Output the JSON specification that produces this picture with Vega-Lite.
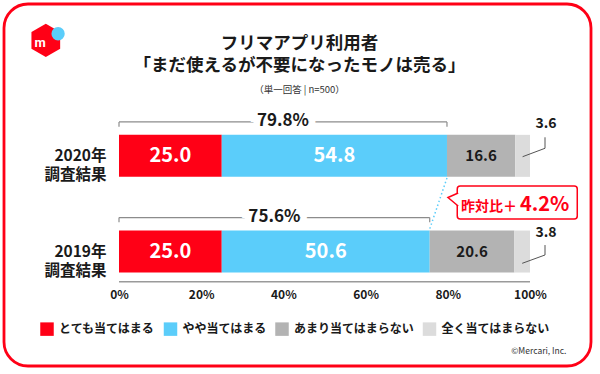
{
  "$schema": "https://vega.github.io/schema/vega-lite/v6.json",
  "width": 587,
  "height": 362,
  "autosize": {"type": "none"},
  "padding": {"left": 4, "top": 4, "right": 9, "bottom": 8},
  "background": "white",
  "view": {"stroke": "#ff0016", "strokeWidth": 2.8, "cornerRadius": 24, "fill": "white"},
  "config": {"font": "Noto Sans CJK JP"},
  "title": {
    "text": ["フリマアプリ利用者", "「まだ使えるが不要になったモノは売る」"],
    "subtitle": "（単一回答 | n=500）",
    "anchor": "middle",
    "frame": "group",
    "offset": -90,
    "dx": 2,
    "fontSize": 17.5,
    "lineHeight": 22.5,
    "font": "Noto Sans CJK JP",
    "fontWeight": "bold",
    "color": "#1a1a1a",
    "subtitleFont": "Noto Sans CJK JP",
    "subtitleFontSize": 9.5,
    "subtitleColor": "#333333",
    "subtitlePadding": 10
  },
  "datasets": {
    "bars": [
      {"year": "2020", "cat": "とても当てはまる", "order": 1, "value": 25.0},
      {"year": "2020", "cat": "やや当てはまる", "order": 2, "value": 54.8},
      {"year": "2020", "cat": "あまり当てはまらない", "order": 3, "value": 16.6},
      {"year": "2020", "cat": "全く当てはまらない", "order": 4, "value": 3.6},
      {"year": "2019", "cat": "とても当てはまる", "order": 1, "value": 25.0},
      {"year": "2019", "cat": "やや当てはまる", "order": 2, "value": 50.6},
      {"year": "2019", "cat": "あまり当てはまらない", "order": 3, "value": 20.6},
      {"year": "2019", "cat": "全く当てはまらない", "order": 4, "value": 3.8}
    ],
    "totals": [
      {"year": "2020", "total": 79.8, "label": "79.8%"},
      {"year": "2019", "total": 75.6, "label": "75.6%"}
    ],
    "change": [
      {"from": "2020", "to": "2019", "v2020": 79.8, "v2019": 75.6, "label": "昨対比＋", "diff": "4.2%"}
    ],
    "logo": [
      {"year": "2020", "m": "m"}
    ]
  },
  "layer": [
    {
      "data": {"name": "totals"},
      "transform": [{"calculate": "datum.total / 2", "as": "half"}],
      "layer": [
        {
          "mark": {"type": "rule", "color": "#8c8c8c", "strokeWidth": 1.2},
          "encoding": {
            "x": {"field": "total", "type": "quantitative"},
            "x2": {"datum": 0},
            "y": {"field": "year", "type": "nominal", "bandPosition": 0.145}
          }
        },
        {
          "mark": {"type": "rule", "color": "#8c8c8c", "strokeWidth": 1.2},
          "encoding": {
            "x": {"datum": 0},
            "y": {"field": "year", "type": "nominal", "bandPosition": 0.145},
            "y2": {"field": "year", "bandPosition": 0.195}
          }
        },
        {
          "mark": {"type": "rule", "color": "#8c8c8c", "strokeWidth": 1.2},
          "encoding": {
            "x": {"field": "total", "type": "quantitative"},
            "y": {"field": "year", "type": "nominal", "bandPosition": 0.145},
            "y2": {"field": "year", "bandPosition": 0.195}
          }
        },
        {
          "mark": {"type": "text", "fontSize": 17, "fontWeight": "bold", "fill": "white", "stroke": "white", "strokeWidth": 14, "baseline": "middle", "align": "center"},
          "encoding": {
            "x": {"field": "half", "type": "quantitative"},
            "y": {"field": "year", "type": "nominal", "bandPosition": 0.14},
            "text": {"field": "label"}
          }
        },
        {
          "mark": {"type": "text", "fontSize": 17, "fontWeight": "bold", "fill": "#1a1a1a", "baseline": "middle", "align": "center"},
          "encoding": {
            "x": {"field": "half", "type": "quantitative"},
            "y": {"field": "year", "type": "nominal", "bandPosition": 0.14},
            "text": {"field": "label"}
          }
        }
      ]
    },
    {
      "data": {"name": "bars"},
      "transform": [
        {"stack": "value", "groupby": ["year"], "sort": [{"field": "order"}], "as": ["x0", "x1"]},
        {"calculate": "(datum.x0 + datum.x1) / 2", "as": "mid"}
      ],
      "layer": [
        {
          "mark": {"type": "bar", "size": 42},
          "encoding": {
            "x": {
              "field": "x0", "type": "quantitative",
              "scale": {"domain": [-27.981, 114.842], "nice": false, "zero": false},
              "axis": {
                "orient": "bottom", "offset": -84.3, "values": [0, 20, 40, 60, 80, 100],
                "labelExpr": "datum.value + '%'", "domain": false, "ticks": false, "tickSize": 0,
                "grid": false, "labelPadding": 8, "labelFontSize": 12, "labelFontWeight": "bold",
                "labelColor": "#1a1a1a", "labelFont": "Noto Sans CJK JP",
                "title": "©Mercari, Inc.", "titleX": 562, "titleY": 68.3, "titleAlign": "right",
                "titleBaseline": "middle", "titleAnchor": "end", "titleFontSize": 8.5,
                "titleFontWeight": "normal", "titleColor": "#333333", "titleFont": "Noto Sans CJK JP"
              }
            },
            "x2": {"field": "x1"},
            "y": {
              "field": "year", "type": "nominal",
              "scale": {"domain": ["2020", "2019"], "range": [104, 295.4], "paddingInner": 0, "paddingOuter": 0},
              "axis": {
                "orient": "left", "offset": -115, "title": null, "domain": false, "ticks": false,
                "tickSize": 0, "grid": false, "labelPadding": 13,
                "labelExpr": "[datum.label + '年', '調査結果']",
                "labelFontSize": 15.5, "labelLineHeight": 19.5, "labelFontWeight": "bold",
                "labelColor": "#1a1a1a", "labelAlign": "right", "labelBaseline": "middle",
                "labelFont": "Noto Sans CJK JP"
              }
            },
            "color": {
              "field": "cat", "type": "nominal",
              "scale": {
                "domain": ["とても当てはまる", "やや当てはまる", "あまり当てはまらない", "全く当てはまらない"],
                "range": ["#ff0016", "#5bcdfa", "#b3b3b3", "#dcdcdc"]
              },
              "legend": {
                "orient": "none", "legendX": 36, "legendY": 318, "direction": "horizontal",
                "title": null, "symbolType": "square", "symbolSize": 182, "symbolStrokeWidth": 0,
                "symbolOpacity": 1, "labelFontSize": 12, "labelFont": "Noto Sans CJK JP",
                "labelFontWeight": "bold", "labelColor": "#1a1a1a", "labelOffset": 5,
                "columnPadding": 7.5, "labelLimit": 0, "padding": 0
              }
            }
          }
        },
        {
          "transform": [{"filter": "datum.order <= 2"}],
          "mark": {"type": "text", "fontSize": 20, "fontWeight": "bold", "fill": "white", "baseline": "middle", "align": "center"},
          "encoding": {
            "x": {"field": "mid", "type": "quantitative"},
            "y": {"field": "year", "type": "nominal"},
            "text": {"field": "value", "type": "quantitative", "format": ".1f"}
          }
        },
        {
          "transform": [{"filter": "datum.order == 3"}],
          "mark": {"type": "text", "fontSize": 15, "fontWeight": "bold", "fill": "#1a1a1a", "baseline": "middle", "align": "center"},
          "encoding": {
            "x": {"field": "mid", "type": "quantitative"},
            "y": {"field": "year", "type": "nominal"},
            "text": {"field": "value", "type": "quantitative", "format": ".1f"}
          }
        },
        {
          "transform": [{"filter": "datum.order == 4 && datum.year == '2020'"}],
          "mark": {"type": "text", "fontSize": 14, "fontWeight": "bold", "fill": "#1a1a1a", "baseline": "middle", "align": "center"},
          "encoding": {
            "x": {"datum": 103.9},
            "y": {"field": "year", "type": "nominal", "bandPosition": 0.172},
            "text": {"field": "value", "type": "quantitative", "format": ".1f"}
          }
        },
        {
          "transform": [{"filter": "datum.order == 4 && datum.year == '2019'"}],
          "mark": {"type": "text", "fontSize": 14, "fontWeight": "bold", "fill": "#1a1a1a", "baseline": "middle", "align": "center"},
          "encoding": {
            "x": {"datum": 103.9},
            "y": {"field": "year", "type": "nominal", "bandPosition": 0.302},
            "text": {"field": "value", "type": "quantitative", "format": ".1f"}
          }
        },
        {
          "transform": [{"filter": "datum.order == 4 && datum.year == '2020'"}],
          "mark": {"type": "rule", "color": "#555555", "strokeWidth": 1},
          "encoding": {
            "x": {"field": "mid", "type": "quantitative"},
            "x2": {"datum": 103.65},
            "y": {"field": "year", "type": "nominal", "bandPosition": 0.509},
            "y2": {"field": "year", "bandPosition": 0.421}
          }
        },
        {
          "transform": [{"filter": "datum.order == 4 && datum.year == '2020'"}],
          "mark": {"type": "rule", "color": "#555555", "strokeWidth": 1},
          "encoding": {
            "x": {"datum": 103.65},
            "y": {"field": "year", "type": "nominal", "bandPosition": 0.421},
            "y2": {"field": "year", "bandPosition": 0.306}
          }
        },
        {
          "transform": [{"filter": "datum.order == 4 && datum.year == '2019'"}],
          "mark": {"type": "rule", "color": "#555555", "strokeWidth": 1},
          "encoding": {
            "x": {"field": "mid", "type": "quantitative"},
            "x2": {"datum": 103.65},
            "y": {"field": "year", "type": "nominal", "bandPosition": 0.623},
            "y2": {"field": "year", "bandPosition": 0.536}
          }
        },
        {
          "transform": [{"filter": "datum.order == 4 && datum.year == '2019'"}],
          "mark": {"type": "rule", "color": "#555555", "strokeWidth": 1},
          "encoding": {
            "x": {"datum": 103.65},
            "y": {"field": "year", "type": "nominal", "bandPosition": 0.536},
            "y2": {"field": "year", "bandPosition": 0.432}
          }
        },
        {
          "transform": [{"filter": "datum.order == 4 && datum.year == '2019'"}],
          "mark": {"type": "rule", "color": "#9a9a9a", "strokeWidth": 1.5},
          "encoding": {
            "x": {"field": "x1", "type": "quantitative"},
            "x2": {"datum": 0},
            "y": {"field": "year", "type": "nominal", "bandPosition": 0.815}
          }
        }
      ]
    },
    {
      "data": {"name": "change"},
      "layer": [
        {
          "mark": {"type": "rule", "color": "#5bcdfa", "strokeWidth": 1.5, "strokeDash": [1.5, 2.5]},
          "encoding": {
            "x": {"field": "v2020", "type": "quantitative"},
            "x2": {"field": "v2019"},
            "y": {"field": "from", "type": "nominal", "bandPosition": 0.731},
            "y2": {"field": "to", "bandPosition": 0.264}
          }
        },
        {
          "mark": {"type": "rect", "fill": "white", "stroke": "#ff0016", "strokeWidth": 1.5, "cornerRadius": 3},
          "encoding": {
            "x": {"datum": 82.3},
            "x2": {"datum": 111.5},
            "y": {"field": "from", "type": "nominal", "bandPosition": 0.815},
            "y2": {"field": "to", "bandPosition": 0.16}
          }
        },
        {
          "mark": {"type": "point", "shape": "M0.85,-1L-0.72,-0.31L0.85,1", "size": 169, "filled": false, "fill": "white", "fillOpacity": 1, "stroke": "#ff0016", "strokeWidth": 1.5, "opacity": 1},
          "encoding": {
            "x": {"datum": 81.18},
            "y": {"field": "from", "type": "nominal", "bandPosition": 0.956}
          }
        },
        {
          "mark": {"type": "text", "fontSize": 14, "fontWeight": "bold", "fill": "#ff0016", "baseline": "alphabetic", "align": "right"},
          "encoding": {
            "x": {"datum": 96.84},
            "y": {"field": "to", "type": "nominal", "bandPosition": 0.076},
            "text": {"field": "label"}
          }
        },
        {
          "mark": {"type": "text", "fontSize": 20, "fontWeight": "bold", "fill": "#ff0016", "baseline": "alphabetic", "align": "left"},
          "encoding": {
            "x": {"datum": 97.57},
            "y": {"field": "to", "type": "nominal", "bandPosition": 0.076},
            "text": {"field": "diff"}
          }
        }
      ]
    },
    {
      "data": {"name": "logo"},
      "layer": [
        {
          "mark": {"type": "point", "shape": "M0,-1L0.866,-0.5L0.866,0.5L0,1L-0.866,0.5L-0.866,-0.5Z", "size": 1100, "filled": true, "fill": "#ff0016", "opacity": 1, "strokeWidth": 0},
          "encoding": {
            "x": {"datum": -17.81},
            "y": {"field": "year", "type": "nominal", "bandPosition": -0.707}
          }
        },
        {
          "mark": {"type": "point", "shape": "circle", "size": 177, "filled": true, "fill": "#5bcdfa", "opacity": 1, "strokeWidth": 0},
          "encoding": {
            "x": {"datum": -14.82},
            "y": {"field": "year", "type": "nominal", "bandPosition": -0.776}
          }
        },
        {
          "mark": {"type": "text", "fontSize": 13, "fontWeight": "bold", "fill": "white", "baseline": "middle", "align": "center", "font": "Roboto"},
          "encoding": {
            "x": {"datum": -19.22},
            "y": {"field": "year", "type": "nominal", "bandPosition": -0.679},
            "text": {"field": "m"}
          }
        }
      ]
    }
  ]
}
